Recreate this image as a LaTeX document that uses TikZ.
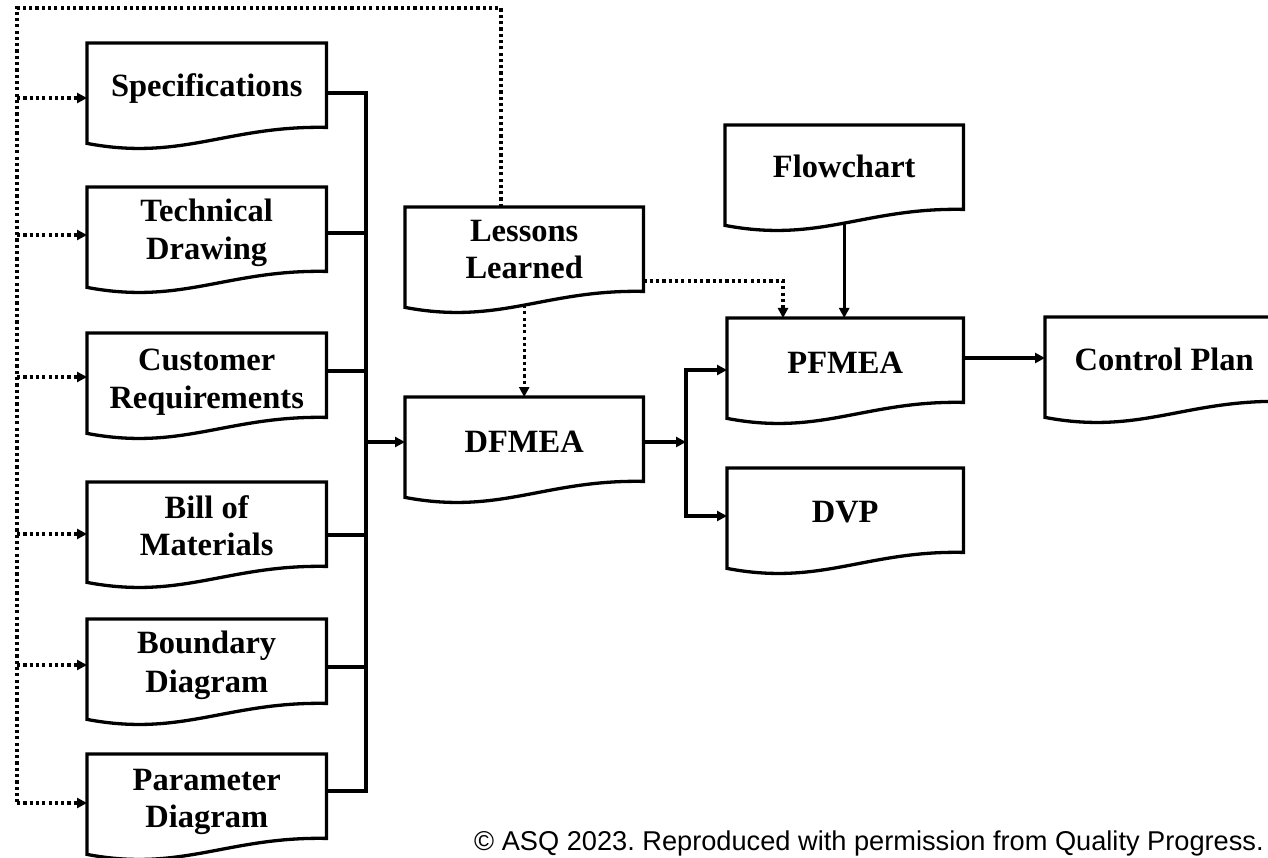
\documentclass[tikz,border=0pt]{standalone}
\usepackage{fontspec}
\setmainfont{Liberation Serif}
\newfontfamily\copyfont{Liberation Sans}
\usetikzlibrary{arrows.meta,calc}
\frenchspacing
\tikzset{
  boxline/.style={line width=3.3pt, line join=miter},
  lblsty/.style={anchor=base, inner sep=0pt, font=\fontsize{32.5}{38}\selectfont\bfseries},
  solidline/.style={line width=3.2pt},
  conn/.style={line width=3.2pt, -{Triangle[length=10pt,width=10pt]}},
  dotline/.style={line width=3.2pt, dash pattern=on 3.2pt off 3.1pt},
  dotconn/.style={dotline, -{Triangle[length=10pt,width=10pt]}},
}
\newcommand\mydoc[4]{%
  \node[inner sep=0pt, minimum width=#4pt, minimum height=84pt, anchor=north west] (#1) at (#2,#3) {};
  \draw[boxline] ($(#1.south west)+(0,16)$) -- (#1.north west) -- (#1.north east) -- (#1.south east)
     .. controls +(-0.4142*#4,-2) and +(0.3975*#4,18) .. cycle;
}
\begin{document}
\begin{tikzpicture}[x=1pt,y=-1pt]
\useasboundingbox (0,0) rectangle (1268,858);
\clip (0,0) rectangle (1268,858);

% document boxes
\mydoc{spec}{87}{43}{239}
\mydoc{tech}{87}{187}{239}
\mydoc{cust}{87}{333}{239}
\mydoc{bill}{87}{482}{239}
\mydoc{bound}{87}{619}{239}
\mydoc{param}{87}{754}{239}
\mydoc{lessons}{405}{207}{238}
\mydoc{dfmea}{405}{397}{238}
\mydoc{flow}{725}{125}{238}
\mydoc{pfmea}{727}{318}{236}
\mydoc{dvp}{727}{468}{236}
\mydoc{cplan}{1045}{317}{238}

% labels
\node[lblsty] (specT) at ([yshift=-54pt]spec.north) {Specifications};
\node[lblsty] (techT1) at ([yshift=-35pt]tech.north) {Technical};
\node[lblsty] (techT2) at ([yshift=-73pt]tech.north) {Drawing};
\node[lblsty] (custT1) at ([yshift=-37pt]cust.north) {Customer};
\node[lblsty] (custT2) at ([yshift=-75pt]cust.north) {Requirements};
\node[lblsty] (billT1) at ([yshift=-36pt]bill.north) {Bill of};
\node[lblsty] (billT2) at ([yshift=-73pt]bill.north) {Materials};
\node[lblsty] (boundT1) at ([yshift=-34pt]bound.north) {Boundary};
\node[lblsty] (boundT2) at ([yshift=-73pt]bound.north) {Diagram};
\node[lblsty] (paramT1) at ([yshift=-36pt]param.north) {Parameter};
\node[lblsty] (paramT2) at ([yshift=-73pt]param.north) {Diagram};
\node[lblsty] (lessT1) at ([yshift=-35pt]lessons.north) {Lessons};
\node[lblsty] (lessT2) at ([yshift=-72pt]lessons.north) {Learned};
\node[lblsty] (dfT) at ([yshift=-55pt]dfmea.north) {DFMEA};
\node[lblsty] (flowT) at ([yshift=-53pt]flow.north) {Flowchart};
\node[lblsty] (pfT) at ([yshift=-55pt]pfmea.north) {PFMEA};
\node[lblsty] (dvpT) at ([yshift=-54pt]dvp.north) {DVP};
\node[lblsty] (cpT) at ([yshift=-53pt]cplan.north) {Control Plan};

% bus into DFMEA
\coordinate (bus) at (366,0);
\coordinate (specR) at ([yshift=-50pt]spec.north east);
\coordinate (techR) at ([yshift=-46pt]tech.north east);
\coordinate (custR) at ([yshift=-38pt]cust.north east);
\coordinate (billR) at ([yshift=-53pt]bill.north east);
\coordinate (boundR) at ([yshift=-48pt]bound.north east);
\coordinate (paramR) at ([yshift=-37pt]param.north east);
\draw[solidline] (specR) -- (specR -| bus) -- (paramR -| bus) -- (paramR);
\draw[solidline] (techR) -- (techR -| bus);
\draw[solidline] (custR) -- (custR -| bus);
\draw[solidline] (billR) -- (billR -| bus);
\draw[solidline] (boundR) -- (boundR -| bus);
\coordinate (dfIn) at ([yshift=-45pt]dfmea.north west);
\draw[conn] (dfIn -| bus) -- (dfIn);

% feedback loop (dotted)
\coordinate (loop) at (17,8);
\coordinate (topR) at (501,8);
\coordinate (specL) at ([yshift=-55pt]spec.north west);
\coordinate (techL) at ([yshift=-48pt]tech.north west);
\coordinate (custL) at ([yshift=-44pt]cust.north west);
\coordinate (billL) at ([yshift=-52pt]bill.north west);
\coordinate (boundL) at ([yshift=-46pt]bound.north west);
\coordinate (paramL) at ([yshift=-49pt]param.north west);
\draw[dotline] (topR |- lessons.north) -- (topR) -- (loop) -- (paramL -| loop);
\draw[dotconn] (specL -| loop) -- (specL);
\draw[dotconn] (techL -| loop) -- (techL);
\draw[dotconn] (custL -| loop) -- (custL);
\draw[dotconn] (billL -| loop) -- (billL);
\draw[dotconn] (boundL -| loop) -- (boundL);
\draw[dotconn] (paramL -| loop) -- (paramL);

% lessons learned links
\draw[dotconn] ([yshift=-98pt]lessons.north) -- (dfmea.north);
\coordinate (llR) at ([yshift=-74pt]lessons.north east);
\draw[dotconn] (llR) -| ([xshift=56pt]pfmea.north west);

% DFMEA split
\coordinate (split) at (686,0);
\coordinate (dfOut) at ([yshift=-45pt]dfmea.north east);
\draw[conn] (dfOut) -- (dfOut -| split);
\coordinate (pfIn) at ([yshift=-52pt]pfmea.north west);
\coordinate (dvpIn) at ([yshift=-48pt]dvp.north west);
\draw[conn] (dvpIn -| split) |- (pfIn);
\draw[conn] (pfIn -| split) |- (dvpIn);

% flowchart and control plan
\draw[conn] ([yshift=-98pt]flow.north) -- (flow.north |- pfmea.north);
\coordinate (pfOut) at ([yshift=-40pt]pfmea.north east);
\draw[conn] (pfOut) -- (pfOut -| cplan.west);

% credit line
\node[anchor=base west, inner sep=0pt, font=\copyfont\fontsize{27.2}{30}\selectfont] (credit) at (474,850) {© ASQ 2023. Reproduced with permission from Quality Progress.};
\end{tikzpicture}
\end{document}
